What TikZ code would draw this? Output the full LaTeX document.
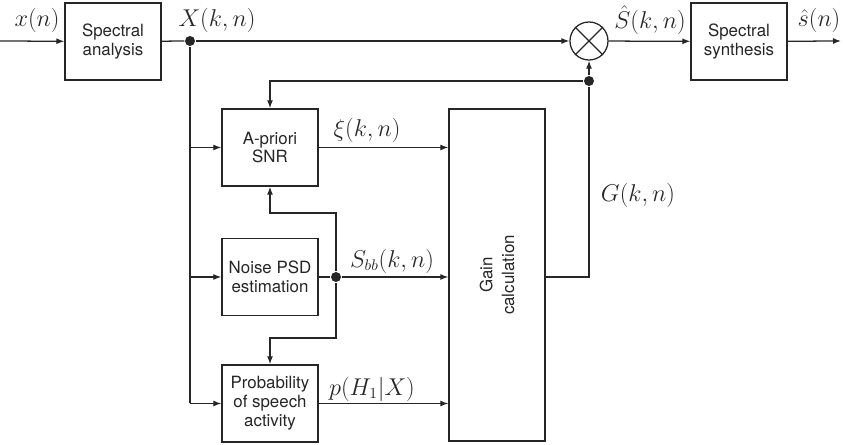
\documentclass[tikz,border=0pt]{standalone}
\usepackage{fontspec}
\setsansfont{TeX Gyre Heros}
\usetikzlibrary{arrows.meta}

\begin{document}
\begin{tikzpicture}[x=0.025cm, y=-0.025cm, line width=0.9pt, color=black!85,
        >={Latex[length=2mm, width=1.5mm]},
        boxtext/.style={align=center, font=\sffamily\fontsize{12}{13.5}\selectfont},
        block/.style={rectangle, draw, boxtext, minimum width=2.4cm, minimum height=1.93cm},
        dot/.style={circle, fill, minimum size=0.25cm, inner sep=0pt},
        sig/.style={font=\fontsize{16}{19}\selectfont, inner sep=1pt}]
        \useasboundingbox (0,0) rectangle (843,445);

        % Nodes
        \node[block] (analysis) at (113, 41.5) {Spectral\\analysis};
        \node[block] (synthesis) at (739, 41.5) {Spectral\\synthesis};
        \node[circle, draw, minimum size=0.95cm, inner sep=0pt] (mult) at (589, 41) {};
        \node[block] (snr) at (270, 147.5) {A-priori\\SNR};
        \node[block] (noise) at (270, 277) {Noise PSD\\estimation};
        \node[block] (prob) at (270, 403.5) {Probability\\of speech\\activity};
        \node[block, minimum height=8.3cm] (gain) at (497, 275) {};
        \node[boxtext, rotate=90] (gaintext) at (gain.center) {Gain\\[2pt]calculation};

        \node[dot] (xdot) at (190, 41) {};
        \node[dot] (gdot) at (589, 81) {};
        \node[dot] (sdot) at (336, 277) {};
        \coordinate (in) at (0, 41);
        \coordinate (out) at (841, 41);
        \coordinate (sabove) at (336, 213);
        \coordinate (sbelow) at (336, 338);

        % Labels
        \node[sig] (lx) at (37, 20) {$x(n)$};
        \node[sig] (lX) at (217, 20) {$X(k,n)$};
        \node[sig] (lS) at (650, 20) {$\hat{S}(k,n)$};
        \node[sig] (ls) at (819, 20) {$\hat{s}(n)$};
        \node[sig] (lxi) at (367, 130) {$\xi(k,n)$};
        \node[sig] (lSbb) at (392, 261) {$S_{bb}(k,n)$};
        \node[sig] (lp) at (372, 389) {$p(H_1|X)$};
        \node[sig] (lG) at (638, 195) {$G(k,n)$};

        % Edges
        \draw (mult.north west) -- (mult.south east);
        \draw (mult.north east) -- (mult.south west);
        \draw[->] (in) -- (analysis);
        \draw (analysis) -- (xdot);
        \draw[->] (xdot) -- (mult);
        \draw[->] (mult) -- (synthesis);
        \draw[->] (synthesis) -- (out);

        \draw (xdot) -- (xdot |- prob);
        \draw[->] (xdot |- snr) -- (snr);
        \draw[->] (xdot |- noise) -- (noise);
        \draw[->] (xdot |- prob) -- (prob);

        \draw[->] (snr) -- (snr -| gain.west);
        \draw (noise) -- (sdot);
        \draw[->] (sdot) -- (sdot -| gain.west);
        \draw[->] (prob) -- (prob -| gain.west);

        \draw (gain.east |- sdot) -- (sdot -| gdot) -- (gdot);
        \draw[->] (gdot) -- (mult);
        \draw[->] (gdot) -- (gdot -| snr) -- (snr);

        \draw[->] (sdot) -- (sabove) -- (sabove -| snr) -- (snr);
        \draw[->] (sdot) -- (sbelow) -- (sbelow -| prob) -- (prob);
    \end{tikzpicture}
\end{document}
